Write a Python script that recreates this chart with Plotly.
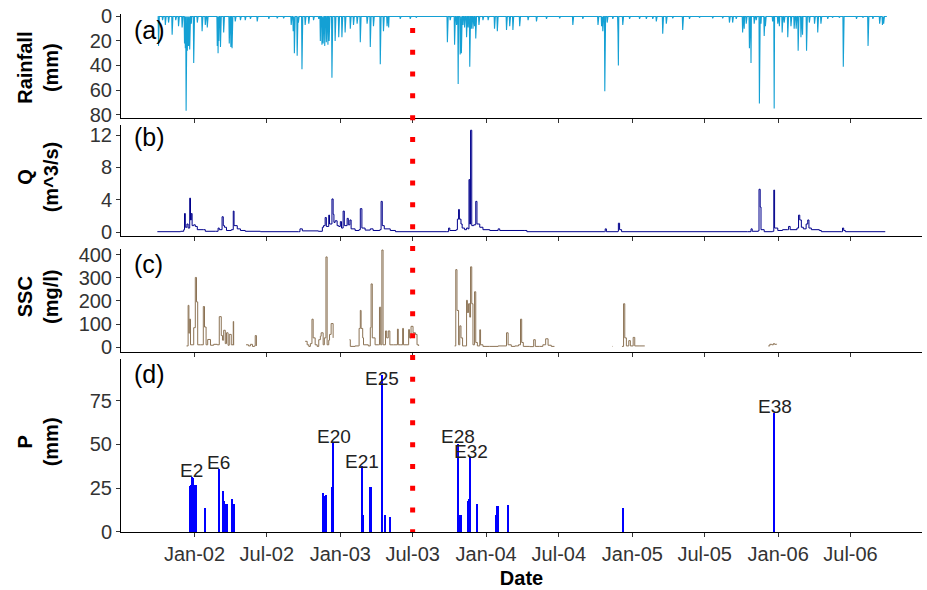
import pandas as pd
import plotly.graph_objects as go

# ---------------- data ----------------
rain_dates = [
    "2001-10-03", "2001-10-13", "2001-10-20", "2001-10-28", "2001-11-06", "2001-11-15", "2001-11-22",
    "2001-12-01", "2001-12-07", "2001-12-09", "2001-12-11", "2001-12-14", "2001-12-17", "2001-12-20",
    "2001-12-24", "2001-12-30", "2002-01-08", "2002-01-20", "2002-01-28", "2002-02-02", "2002-02-27",
    "2002-03-01", "2002-03-03", "2002-03-07", "2002-03-15", "2002-03-29", "2002-04-02", "2002-04-05",
    "2002-04-13", "2002-04-26", "2002-05-08", "2002-05-21", "2002-06-07", "2002-07-06", "2002-07-27",
    "2002-08-12", "2002-08-31", "2002-09-05", "2002-09-08", "2002-09-15", "2002-09-18", "2002-09-27",
    "2002-10-05", "2002-10-14", "2002-10-26", "2002-11-08", "2002-11-12", "2002-11-16", "2002-11-19",
    "2002-11-23", "2002-11-27", "2002-12-01", "2002-12-04", "2002-12-11", "2002-12-19", "2002-12-28",
    "2003-01-05", "2003-01-13", "2003-01-26", "2003-02-03", "2003-02-12", "2003-02-20", "2003-03-09",
    "2003-03-17", "2003-03-25", "2003-04-11", "2003-04-19", "2003-04-28", "2003-05-02", "2003-05-31",
    "2003-06-25", "2003-07-10", "2003-09-26", "2003-10-03", "2003-10-14", "2003-10-19", "2003-10-23",
    "2003-10-28", "2003-10-31", "2003-11-04", "2003-11-08", "2003-11-13", "2003-11-17", "2003-11-21",
    "2003-11-25", "2003-11-29", "2003-12-03", "2003-12-06", "2003-12-14", "2003-12-24", "2004-01-06",
    "2004-01-22", "2004-01-29", "2004-02-21", "2004-02-29", "2004-03-08", "2004-03-25", "2004-04-15",
    "2004-05-06", "2004-05-31", "2004-07-03", "2004-08-05", "2004-08-30", "2004-10-07", "2004-10-16",
    "2004-10-19", "2004-10-24", "2004-10-30", "2004-11-13", "2004-11-26", "2004-11-27", "2004-12-08",
    "2004-12-25", "2005-01-19", "2005-02-05", "2005-02-21", "2005-03-02", "2005-03-18", "2005-03-27",
    "2005-04-12", "2005-05-07", "2005-05-24", "2005-06-18", "2005-07-21", "2005-08-15", "2005-09-01",
    "2005-09-09", "2005-09-18", "2005-10-04", "2005-10-08", "2005-10-13", "2005-10-21", "2005-10-25",
    "2005-11-02", "2005-11-07", "2005-11-15", "2005-11-19", "2005-11-27", "2005-11-30", "2005-12-18",
    "2005-12-22", "2005-12-31", "2006-01-04", "2006-01-11", "2006-01-16", "2006-01-25", "2006-02-02",
    "2006-02-10", "2006-02-15", "2006-02-20", "2006-02-27", "2006-03-03", "2006-03-13", "2006-03-20",
    "2006-04-02", "2006-04-10", "2006-04-18", "2006-05-05", "2006-05-17", "2006-06-03", "2006-06-13",
    "2006-07-16", "2006-08-01", "2006-08-14", "2006-08-26", "2006-09-12", "2006-09-19", "2006-09-22",
]
rain_mm = [
    24, 3, 7, 5, 15, 3, 8,
    9, 22, 26, 77, 28, 24, 27,
    6, 38, 5, 12, 7, 9, 24,
    30, 20, 25, 13, 22, 25, 26,
    4, 3, 3, 2, 4, 2, 1.5,
    1.5, 7, 12, 30, 32, 5, 43,
    7, 6, 3, 2, 20, 23, 22,
    24, 21, 23, 20, 50, 20, 17,
    17, 13, 10, 7, 6, 21, 6,
    25, 8, 39, 12, 8, 9, 2,
    2, 1, 21, 3, 23, 7, 55,
    31, 30, 7, 9, 17, 9, 41,
    10, 10, 8, 18, 7, 3, 3,
    10, 12, 11, 8, 11, 8, 3,
    4, 2, 1.5, 7, 2, 7, 8,
    12, 61, 5, 2, 13, 40, 7,
    2, 2, 2, 2, 4, 14, 6,
    1.5, 11, 2, 1, 1.5, 1.5, 5,
    5, 2, 13, 10, 6, 26, 38,
    6, 3, 71, 6, 16, 8, 4,
    75, 6, 8, 13, 5, 17, 8,
    10, 10, 28, 17, 15, 28, 5,
    6, 13, 6, 2, 1, 1, 41,
    2, 1, 24, 2, 6, 7, 6,
]

q_dates = [
    "2001-09-30", "2001-11-27", "2001-12-05", "2001-12-07", "2001-12-09", "2001-12-13", "2001-12-16",
    "2001-12-20", "2001-12-22", "2001-12-24", "2001-12-26", "2001-12-30", "2002-01-03", "2002-01-08",
    "2002-01-23", "2002-01-28", "2002-02-22", "2002-03-01", "2002-03-04", "2002-03-11", "2002-03-14",
    "2002-03-17", "2002-03-22", "2002-04-03", "2002-04-08", "2002-04-10", "2002-04-18", "2002-04-26",
    "2002-05-08", "2002-06-15", "2002-09-18", "2002-09-22", "2002-09-28", "2002-11-07", "2002-11-17",
    "2002-11-20", "2002-11-24", "2002-11-27", "2002-12-03", "2002-12-05", "2002-12-11", "2002-12-14",
    "2002-12-16", "2002-12-19", "2002-12-24", "2002-12-28", "2003-01-01", "2003-01-04", "2003-01-08",
    "2003-01-11", "2003-01-18", "2003-01-21", "2003-01-25", "2003-01-28", "2003-02-07", "2003-02-17",
    "2003-02-20", "2003-02-24", "2003-03-04", "2003-03-17", "2003-03-24", "2003-04-10", "2003-04-13",
    "2003-04-16", "2003-04-21", "2003-05-06", "2003-05-19", "2003-09-23", "2003-09-29", "2003-10-02",
    "2003-10-18", "2003-10-21", "2003-10-24", "2003-10-26", "2003-10-30", "2003-11-02", "2003-11-08",
    "2003-11-13", "2003-11-17", "2003-11-19", "2003-11-21", "2003-11-23", "2003-11-26", "2003-12-01",
    "2003-12-06", "2003-12-09", "2003-12-16", "2003-12-24", "2004-01-10", "2004-01-31", "2004-02-04",
    "2004-04-07", "2004-04-12", "2004-10-23", "2004-10-25", "2004-10-28", "2004-11-26", "2004-11-27",
    "2004-11-30", "2004-12-05", "2005-10-16", "2005-10-25", "2005-10-28", "2005-11-12", "2005-11-14",
    "2005-11-17", "2005-11-19", "2005-11-27", "2005-12-18", "2005-12-21", "2005-12-23", "2005-12-31",
    "2006-01-12", "2006-01-24", "2006-01-27", "2006-01-31", "2006-02-17", "2006-02-21", "2006-02-24",
    "2006-02-28", "2006-03-05", "2006-03-12", "2006-03-16", "2006-03-19", "2006-03-25", "2006-04-14",
    "2006-04-19", "2006-06-09", "2006-06-11", "2006-06-14", "2006-06-18", "2006-09-26",
]
q_m3s = [
    0.05, 0.1, 0.3, 2.3, 0.6, 1.0, 0.5,
    4.2, 1.5, 2.3, 0.8, 0.9, 0.7, 0.3,
    0.3, 0.1, 0.1, 0.5, 0.3, 1.9, 0.8,
    0.6, 0.2, 0.3, 2.6, 0.8, 0.4, 0.2,
    0.1, 0.05, 0.05, 0.4, 0.15, 0.1, 0.6,
    0.8, 1.8, 0.7, 2.1, 1.0, 4.1, 2.2,
    1.2, 1.4, 0.8, 0.7, 1.3, 0.5, 2.6,
    0.8, 1.7, 0.9, 1.5, 0.4, 0.2, 0.3,
    2.9, 0.5, 0.25, 0.4, 0.2, 0.3, 3.8,
    0.8, 0.4, 0.2, 0.05, 0.05, 0.5, 0.2,
    0.3, 1.6, 2.8, 1.6, 1.0, 0.5, 0.3,
    0.5, 0.4, 6.5, 1.0, 12.6, 0.8, 0.9,
    3.8, 1.0, 0.6, 0.3, 0.2, 0.4, 0.2,
    0.2, 0.05, 0.05, 0.4, 0.05, 0.1, 1.1,
    0.3, 0.05, 0.05, 0.4, 0.1, 0.15, 5.3,
    3.1, 0.3, 0.05, 0.1, 5.2, 0.5, 0.2,
    0.3, 0.3, 0.7, 0.3, 0.5, 2.1, 1.5,
    0.6, 0.4, 1.0, 1.5, 0.5, 0.3, 0.2,
    0.05, 0.05, 0.5, 0.2, 0.05, 0.05,
]

# None marks a gap in the SSC record
ssc_dates = [
    "2001-12-12", "2001-12-16", "2001-12-18", "2001-12-19", "2001-12-22", "2001-12-26", "2001-12-30",
    "2002-01-03", "2002-01-06", "2002-01-09", "2002-01-16", "2002-01-23", "2002-01-26", "2002-01-30",
    "2002-02-03", "2002-02-10", "2002-02-18", "2002-02-27", "2002-03-04", "2002-03-09", "2002-03-12",
    "2002-03-15", "2002-03-19", "2002-03-22", "2002-03-26", "2002-03-29", "2002-04-03", "2002-04-08",
    "2002-04-09", "2002-04-20",
    "2002-05-10", "2002-05-16", "2002-05-21", "2002-05-26", "2002-05-31", "2002-06-02", "2002-06-05",
    "2002-07-01",
    "2002-10-05", "2002-10-10", "2002-10-14", "2002-10-18", "2002-10-22", "2002-10-25", "2002-10-30",
    "2002-11-04", "2002-11-08", "2002-11-12", "2002-11-14", "2002-11-19", "2002-11-22", "2002-11-26",
    "2002-11-29", "2002-12-03", "2002-12-05", "2002-12-09", "2002-12-14", "2003-01-01",
    "2003-01-24", "2003-01-26", "2003-02-07", "2003-02-15", "2003-02-17", "2003-02-20", "2003-02-22",
    "2003-02-26", "2003-02-28", "2003-03-12", "2003-03-17", "2003-03-19", "2003-03-22", "2003-03-29",
    "2003-04-07", "2003-04-09", "2003-04-12", "2003-04-15", "2003-04-18", "2003-04-24", "2003-04-27",
    "2003-05-01", "2003-05-05", "2003-05-14", "2003-05-24", "2003-05-26", "2003-05-31", "2003-06-06",
    "2003-06-08", "2003-06-17", "2003-06-21", "2003-06-23", "2003-06-27", "2003-07-02", "2003-07-08",
    "2003-07-12", "2003-07-16", "2003-08-15",
    "2003-10-14", "2003-10-17", "2003-10-20", "2003-10-24", "2003-10-27", "2003-10-30", "2003-11-03",
    "2003-11-08", "2003-11-13", "2003-11-15", "2003-11-18", "2003-11-21", "2003-11-23", "2003-11-26",
    "2003-11-29", "2003-12-03", "2003-12-06", "2003-12-10", "2003-12-16", "2003-12-18", "2003-12-24",
    "2004-01-10", "2004-01-31", "2004-02-21", "2004-02-25", "2004-03-04", "2004-03-13", "2004-03-22",
    "2004-03-27", "2004-03-30", "2004-04-03", "2004-04-19", "2004-04-29", "2004-05-03", "2004-05-14",
    "2004-05-22", "2004-05-29", "2004-06-04", "2004-06-12", "2004-06-20", "2004-08-01",
    "2004-11-12", "2004-11-13", "2004-11-20",
    "2004-12-06", "2004-12-10", "2004-12-13", "2004-12-17", "2004-12-23", "2004-12-27", "2005-01-03",
    "2005-01-07", "2005-01-20", "2005-02-01", "2005-06-01",
    "2005-12-07", "2005-12-11", "2005-12-16", "2005-12-20", "2005-12-23", "2005-12-28",
]
ssc_mgl = [
    5, 181, 60, 121, 10, 10, 84,
    302, 196, 10, 10, 176, 87, 10,
    33, 8, 12, 10, 132, 50, 30,
    73, 15, 62, 8, 55, 10, 111,
    8, None,
    10, 5, 12, 3, 5, 50, 5,
    None,
    25, 10, 3, 15, 121, 40, 10,
    3, 32, 47, 62, 10, 40, 391,
    10, 30, 55, 102, 40, None,
    32, 3, 5, 5, 81, 159, 81,
    40, 10, 5, 84, 274, 40, 10,
    10, 173, 10, 421, 10, 70, 40,
    70, 10, 10, 78, 10, 10, 81,
    10, 10, 76, 40, 90, 62, 55,
    10, 5, None,
    5, 336, 159, 10, 92, 40, 5,
    5, 203, 150, 188, 130, 348, 188,
    10, 240, 20, 5, 75, 10, 3,
    3, 5, 62, 10, 3, 5, 10,
    121, 20, 3, 2, 32, 3, 3,
    10, 36, 8, 3, 3, None,
    3, 3, None,
    3, 188, 40, 5, 28, 5, 42,
    5, 5, 5, None,
    5, 12, 10, 15, 12, 14,
]

p_dates = [
    "2001-12-20", "2001-12-23", "2001-12-25", "2001-12-28", "2002-01-03", "2002-01-06", "2002-01-27",
    "2002-03-03", "2002-03-14", "2002-03-17", "2002-03-21", "2002-03-23", "2002-04-06", "2002-04-10",
    "2002-11-20", "2002-11-24", "2002-11-27", "2002-12-12", "2002-12-15", "2003-02-24", "2003-02-27",
    "2003-03-17", "2003-03-20", "2003-04-15", "2003-04-24", "2003-05-06", "2003-10-23", "2003-10-27",
    "2003-10-30", "2003-11-16", "2003-11-19", "2003-11-21", "2003-11-23", "2003-12-10", "2004-01-26",
    "2004-01-29", "2004-02-01", "2004-02-25", "2004-12-10", "2005-12-23",
]
p_mm = [
    26.3, 27, 31.6, 31, 27.2, 27.2, 13.7,
    36.3, 23.5, 17.7, 16.4, 16.4, 19.2, 16.4,
    22.7, 20.8, 21.2, 26, 51.3, 38.1, 9.9,
    26, 26, 89.8, 9.9, 9, 50.4, 9.9,
    9.9, 17.8, 19.2, 19.6, 42.8, 16, 9.9,
    15, 15, 15.4, 13.7, 68.2,
]
event_labels = ["E2", "E6", "E20", "E21", "E25", "E28", "E32", "E38"]
event_dates = ["2001-12-25", "2002-03-03", "2002-12-15", "2003-02-24", "2003-04-15",
               "2003-10-23", "2003-11-23", "2005-12-23"]
event_p = [31.6, 36.3, 51.3, 38.1, 89.8, 50.4, 42.8, 68.2]
event_label_shift = [6, 6, 6, 4, -4, 7, 6, 6]

tick_dates = ["2002-01-01", "2002-07-01", "2003-01-01", "2003-07-01", "2004-01-01",
              "2004-07-01", "2005-01-01", "2005-07-01", "2006-01-01", "2006-07-01"]
tick_labels = ["Jan-02", "Jul-02", "Jan-03", "Jul-03", "Jan-04",
               "Jul-04", "Jan-05", "Jul-05", "Jan-06", "Jul-06"]
split_date = "2003-07-01"
panel_tags = ["(a)", "(b)", "(c)", "(d)"]
y_titles = ["<b>Rainfall</b><br><b>(mm)</b>", "<b>Q</b><br><b>(m^3/s)</b>",
            "<b>SSC</b><br><b>(mg/l)</b>", "<b>P</b><br><b>(mm)</b>"]

# ---------------- build ----------------
FONT = "Liberation Sans, Arial, sans-serif"
days = pd.date_range("2001-10-01", "2006-09-30", freq="D")
rain = pd.Series(0.0, index=days)
for d, v in zip(rain_dates, rain_mm):
    rain[pd.Timestamp(d)] = v

fig = go.Figure()
fig.add_trace(go.Scatter(x=rain.index, y=rain.values, mode="lines",
                         line=dict(color="#14A0D4", width=1.1), xaxis="x", yaxis="y",
                         showlegend=False, hoverinfo="skip"))
fig.add_trace(go.Scatter(x=pd.to_datetime(q_dates), y=q_m3s, mode="lines",
                         line=dict(color="#00008B", width=1, shape="hv"), xaxis="x2", yaxis="y2",
                         showlegend=False))
fig.add_trace(go.Scatter(x=pd.to_datetime(ssc_dates), y=ssc_mgl, mode="lines",
                         line=dict(color="#8C7355", width=1, shape="hv"), connectgaps=False,
                         xaxis="x3", yaxis="y3", showlegend=False))
fig.add_trace(go.Bar(x=pd.to_datetime(p_dates), y=p_mm, marker=dict(color="#0000FF", line=dict(width=0)),
                     width=3.5 * 86400000, xaxis="x4", yaxis="y4", showlegend=False))

H_TOP, H_BOT = 14, 534
PH = H_BOT - H_TOP
def dom(top, bot):
    return [(H_BOT - bot) / PH, (H_BOT - top) / PH]

panels = [(14, 118), (125, 237), (250, 353), (360, 534)]
yranges = [[82.5, -2], [-0.5, 13.3], [-20, 425], [0, 99]]
ytickvals = [[0, 20, 40, 60, 80], [0, 4, 8, 12], [0, 100, 200, 300, 400], [0, 25, 50, 75]]

xrange_ = ["2001-07-01", "2006-12-27"]
common_x = dict(range=xrange_, showline=True, linecolor="black", linewidth=1,
                ticks="outside", ticklen=4, tickcolor="#333333", tickwidth=1,
                tickvals=tick_dates, ticktext=tick_labels, showgrid=False, zeroline=False,
                tickfont=dict(size=20, color="#333333", family=FONT))
common_y = dict(showline=True, linecolor="black", linewidth=1, ticks="outside", ticklen=4,
                tickcolor="#333333", tickwidth=1, showgrid=False, zeroline=False,
                tickfont=dict(size=20, color="#333333", family=FONT))

lay = {}
for i in range(4):
    sx = "" if i == 0 else str(i + 1)
    xa = dict(common_x, anchor="y" + sx, domain=[0, 1], showticklabels=(i == 3))
    if i > 0:
        xa["matches"] = "x"
    if i == 3:
        xa["title"] = dict(text="<b>Date</b>", font=dict(size=20, color="black", family=FONT), standoff=6)
    lay["xaxis" + sx] = xa
    ya = dict(common_y, anchor="x" + sx, domain=dom(*panels[i]), range=yranges[i],
              tickvals=ytickvals[i])
    lay["yaxis" + sx] = ya
fig.update_layout(**lay)

ann = []
tag_y = [30, 137, 265, 375]
title_y = [68, 178, 298, 444]
for i in range(4):
    ann.append(dict(text=panel_tags[i], xref="paper", yref="paper", x=(132 - 121) / 801,
                    y=(H_BOT - tag_y[i]) / PH, xanchor="left", yanchor="middle", showarrow=False,
                    font=dict(size=25, color="black", family=FONT)))
    ann.append(dict(text=y_titles[i], xref="paper", yref="paper", x=(38 - 121) / 801,
                    y=(H_BOT - title_y[i]) / PH, xanchor="center", yanchor="middle",
                    textangle=-90, showarrow=False,
                    font=dict(size=20, color="black", family=FONT)))
for lab, d, v, sh in zip(event_labels, event_dates, event_p, event_label_shift):
    ann.append(dict(text=lab, xref="x4", yref="y4", x=d, y=v, xanchor="center",
                    yanchor="middle", yshift=sh, showarrow=False,
                    font=dict(size=19, color="#222222", family=FONT)))

fig.update_layout(
    annotations=ann,
    shapes=[dict(type="line", xref="x", yref="paper", x0=split_date, x1=split_date,
                 y0=(H_BOT - 28) / PH, y1=0, line=dict(color="#FF0000", width=5, dash="5px,16.8px"),
                 layer="above")],
    width=927, height=590,
    margin=dict(l=121, r=5, t=14, b=56),
    paper_bgcolor="white", plot_bgcolor="white",
    font=dict(family=FONT, color="black"),
    bargap=0,
)
fig.write_html("out.html", config={"displayModeBar": False},
               post_script="document.body.style.margin='0px';document.body.style.overflow='hidden';")
